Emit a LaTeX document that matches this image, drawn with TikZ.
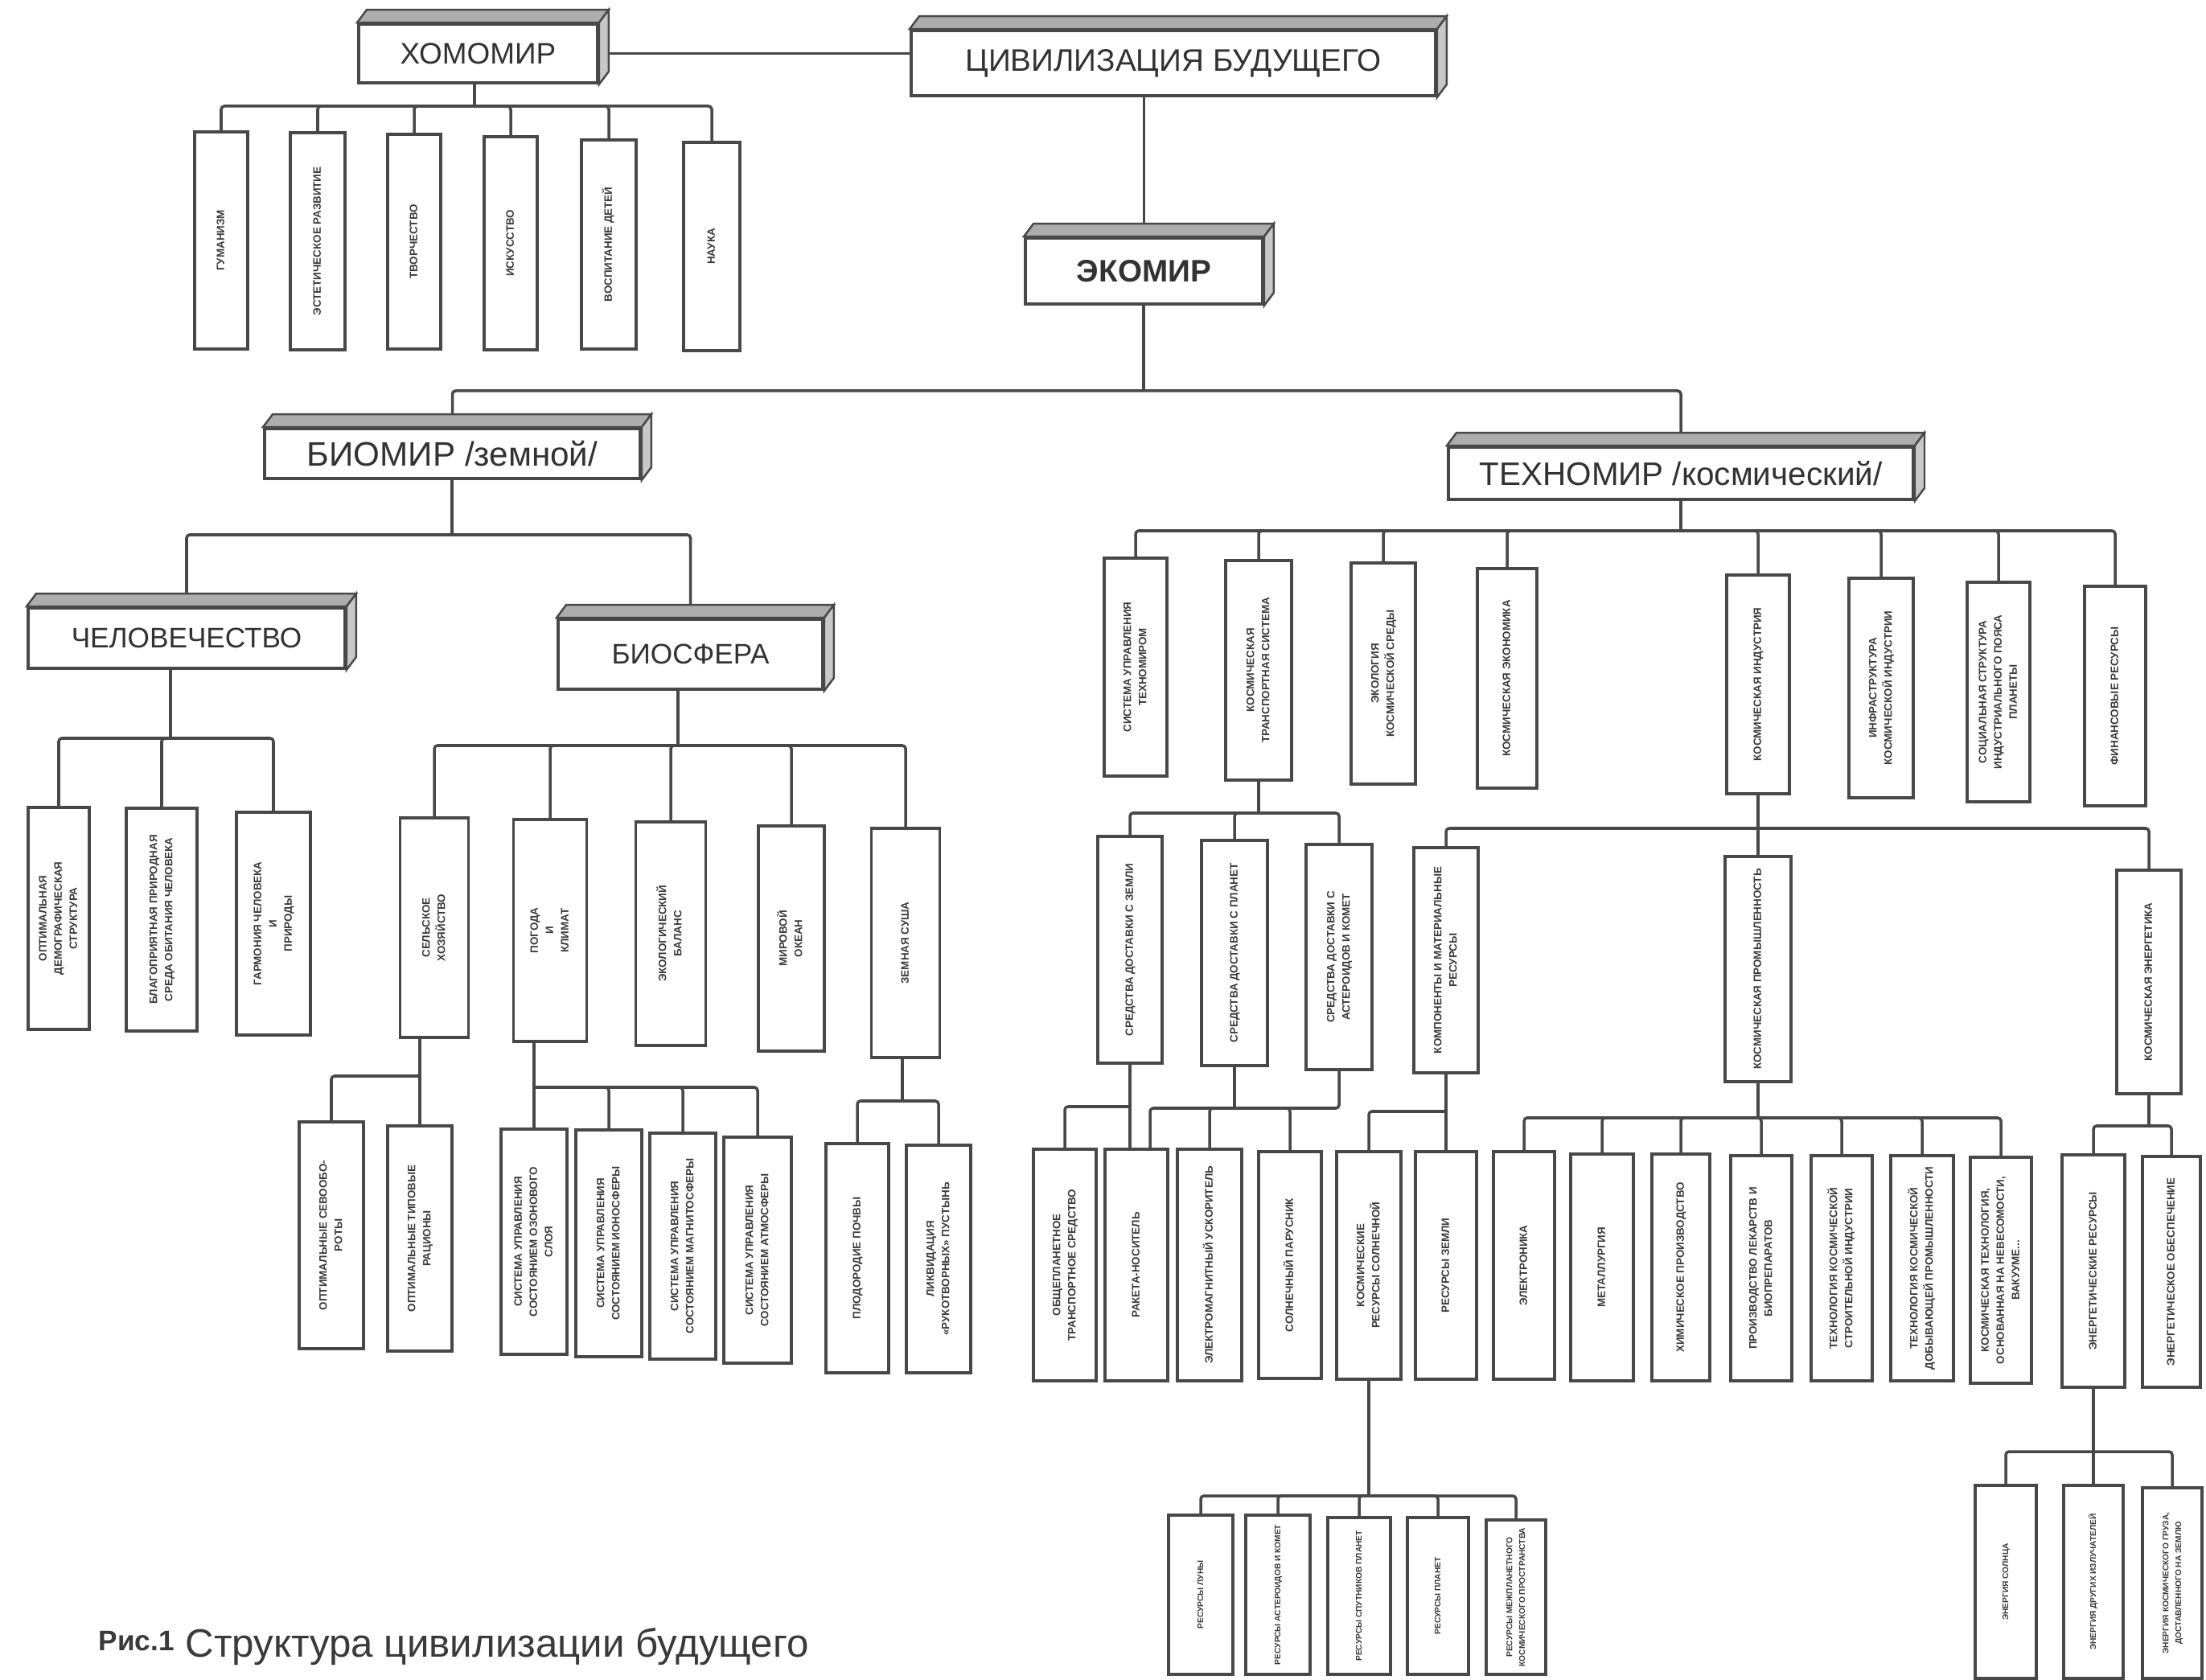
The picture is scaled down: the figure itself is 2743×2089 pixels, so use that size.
\documentclass[tikz,border=0pt]{standalone}
\usepackage{fontspec}
\usepackage{graphicx}
\setmainfont{Liberation Sans}
\usetikzlibrary{calc}
\definecolor{ink}{RGB}{72,72,72}
\newcommand\myvfs{3.8}
\newcommand\myvbs{5.4}
\newcommand\vfont{\fontsize{\myvfs}{\myvbs}\selectfont\bfseries}
\tikzset{
  ln/.style={draw=ink, line width=1pt, rounded corners=0.04cm},
  vb/.style={draw=ink, line width=1.1pt, fill=white, inner sep=0pt, text=ink!80!black},
  hb/.style={draw=ink, line width=1.1pt, fill=white, inner sep=0pt, text=ink!70!black},
  topface/.style={fill=ink!45, draw=ink, line width=0.7pt},
  sideface/.style={fill=ink!30, draw=ink, line width=0.7pt},
  captxt/.style={text=ink!80!black, inner sep=0pt}
}
% vertical box: name, cx, top, bottom, width, text
\newcommand\vn[6]{%
  \pgfmathsetmacro\vnw{#5*0.01}%
  \pgfmathsetmacro\vnh{(#4-#3)*0.01}%
  \node[vb, minimum width=\vnw cm, minimum height=\vnh cm, anchor=north] (#1) at (#2,#3)
    {\rotatebox{90}{\vfont\begin{tabular}{@{}c@{}}#6\end{tabular}}};}
% heading box: name, x1, y1, x2, y2, font size, text
\newcommand\hn[7]{%
  \pgfmathsetmacro\hnw{(#4-#2)*0.01}%
  \pgfmathsetmacro\hnh{(#5-#3)*0.01}%
  \node[hb, minimum width=\hnw cm, minimum height=\hnh cm, font=\fontsize{#6}{#6}\selectfont] (#1) at ({(#2+#4)/2},{(#3+#5)/2}) {#7};}
% 3D faces
\newcommand\slab[1]{%
  \filldraw[topface] (#1.north west) -- ++(12,-16) -- ($(#1.north east)+(12,-16)$) -- (#1.north east) -- cycle;
  \filldraw[sideface] (#1.north east) -- ++(12,-16) -- ($(#1.south east)+(12,-16)$) -- (#1.south east) -- cycle;}
% tree branch: parent, bar coordinate, children
\newcommand\branch[3]{%
  \draw[ln] (#2 |- #1.south) -- (#2);
  \foreach \kid in {#3} {\draw[ln] (\kid.north) |- (#2);}}
\begin{document}
\begin{tikzpicture}[x=0.01cm, y=-0.01cm]
\useasboundingbox (0,0) rectangle (2743,2089);
\fill[white] (0,0) rectangle (2743,2089);

% ---------- headings ----------
\hn{hom}{446}{30}{743}{103}{10.5}{ХОМОМИР}
\hn{civ}{1133}{38}{1785}{119}{11}{ЦИВИЛИЗАЦИЯ БУДУЩЕГО}
\hn{eko}{1275}{296}{1570}{378}{11}{\bfseries ЭКОМИР}
\hn{bio}{329}{533}{796}{595}{12}{БИОМИР /земной/}
\hn{tech}{1801}{556}{2379}{621}{11.5}{ТЕХНОМИР /космический/}
\hn{chel}{35}{756}{429}{831}{10}{ЧЕЛОВЕЧЕСТВО}
\hn{bsf}{694}{770}{1023}{857}{10}{БИОСФЕРА}

% ---------- ХОМОМИР ----------
\vn{h1}{275}{162}{432}{66}{ГУМАНИЗМ}
\vn{h2}{395}{163}{433}{68}{ЭСТЕТИЧЕСКОЕ РАЗВИТИЕ}
\vn{h3}{515}{165}{432}{66}{ТВОРЧЕСТВО}
\vn{h4}{635}{168}{433}{66}{ИСКУССТВО}
\vn{h5}{757}{172}{432}{68}{ВОСПИТАНИЕ ДЕТЕЙ}
\vn{h6}{885}{175}{434}{70}{НАУКА}

% ---------- ЧЕЛОВЕЧЕСТВО ----------
\vn{c1}{73}{1002}{1278}{76}{ОПТИМАЛЬНАЯ\\ДЕМОГРАФИЧЕСКАЯ\\СТРУКТУРА}
\vn{c2}{201}{1003}{1280}{88}{БЛАГОПРИЯТНАЯ ПРИРОДНАЯ\\СРЕДА ОБИТАНИЯ ЧЕЛОВЕКА}
\vn{c3}{340}{1008}{1285}{92}{ГАРМОНИЯ ЧЕЛОВЕКА\\И\\ПРИРОДЫ}

% ---------- БИОСФЕРА ----------
\vn{bs1}{540}{1015}{1288}{85}{СЕЛЬСКОЕ\\ХОЗЯЙСТВО}
\vn{bs2}{684}{1017}{1293}{91}{ПОГОДА\\И\\КЛИМАТ}
\vn{bs3}{834}{1020}{1298}{87}{ЭКОЛОГИЧЕСКИЙ\\БАЛАНС}
\vn{bs4}{984}{1025}{1305}{82}{МИРОВОЙ\\ОКЕАН}
\vn{bs5}{1126}{1028}{1313}{85}{ЗЕМНАЯ СУША}

\vn{a1}{412}{1393}{1675}{80}{ОПТИМАЛЬНЫЕ СЕВООБО-\\РОТЫ}
\vn{a2}{522}{1398}{1678}{80}{ОПТИМАЛЬНЫЕ ТИПОВЫЕ\\РАЦИОНЫ}
\vn{p1}{664}{1402}{1682}{82}{СИСТЕМА УПРАВЛЕНИЯ\\СОСТОЯНИЕМ ОЗОНОВОГО\\СЛОЯ}
\vn{p2}{757}{1403}{1685}{82}{СИСТЕМА УПРАВЛЕНИЯ\\СОСТОЯНИЕМ ИОНОСФЕРЫ}
\vn{p3}{849}{1407}{1688}{82}{СИСТЕМА УПРАВЛЕНИЯ\\СОСТОЯНИЕМ МАГНИТОСФЕРЫ}
\vn{p4}{942}{1412}{1693}{84}{СИСТЕМА УПРАВЛЕНИЯ\\СОСТОЯНИЕМ АТМОСФЕРЫ}
\vn{z1}{1066}{1420}{1705}{78}{ПЛОДОРОДИЕ ПОЧВЫ}
\vn{z2}{1167}{1422}{1705}{80}{ЛИКВИДАЦИЯ\\«РУКОТВОРНЫХ» ПУСТЫНЬ}

% ---------- ТЕХНОМИР ----------
\vn{k1}{1412}{692}{963}{78}{СИСТЕМА УПРАВЛЕНИЯ\\ТЕХНОМИРОМ}
\vn{k2}{1565}{695}{968}{82}{КОСМИЧЕСКАЯ\\ТРАНСПОРТНАЯ СИСТЕМА}
\vn{k3}{1720}{698}{973}{80}{ЭКОЛОГИЯ\\КОСМИЧЕСКОЙ СРЕДЫ}
\vn{k4}{1874}{705}{978}{74}{КОСМИЧЕСКАЯ ЭКОНОМИКА}
\vn{k5}{2186}{713}{985}{78}{КОСМИЧЕСКАЯ ИНДУСТРИЯ}
\vn{k6}{2339}{717}{990}{80}{ИНФРАСТРУКТУРА\\КОСМИЧЕСКОЙ ИНДУСТРИИ}
\vn{k7}{2485}{722}{995}{78}{СОЦИАЛЬНАЯ СТРУКТУРА\\ИНДУСТРИАЛЬНОГО ПОЯСА\\ПЛАНЕТЫ}
\vn{k8}{2630}{727}{1000}{76}{ФИНАНСОВЫЕ РЕСУРСЫ}

\vn{t1}{1405}{1038}{1320}{80}{СРЕДСТВА ДОСТАВКИ С ЗЕМЛИ}
\vn{t2}{1535}{1043}{1323}{82}{СРЕДСТВА ДОСТАВКИ С ПЛАНЕТ}
\vn{t3}{1665}{1048}{1328}{82}{СРЕДСТВА ДОСТАВКИ С\\АСТЕРОИДОВ И КОМЕТ}
\vn{i1}{1798}{1052}{1332}{80}{КОМПОНЕНТЫ И МАТЕРИАЛЬНЫЕ\\РЕСУРСЫ}
\vn{i2}{2186}{1063}{1343}{82}{КОСМИЧЕСКАЯ ПРОМЫШЛЕННОСТЬ}
\vn{i3}{2672}{1080}{1358}{80}{КОСМИЧЕСКАЯ ЭНЕРГЕТИКА}

\vn{b1}{1324}{1427}{1715}{78}{ОБЩЕПЛАНЕТНОЕ\\ТРАНСПОРТНОЕ СРЕДСТВО}
\vn{b2}{1413}{1427}{1715}{78}{РАКЕТА-НОСИТЕЛЬ}
\vn{b3}{1504}{1427}{1715}{80}{ЭЛЕКТРОМАГНИТНЫЙ УСКОРИТЕЛЬ}
\vn{b4}{1604}{1430}{1712}{78}{СОЛНЕЧНЫЙ ПАРУСНИК}
\vn{b5}{1702}{1430}{1713}{80}{КОСМИЧЕСКИЕ\\РЕСУРСЫ СОЛНЕЧНОЙ}
\vn{b6}{1798}{1430}{1713}{76}{РЕСУРСЫ ЗЕМЛИ}
\vn{b7}{1895}{1430}{1713}{76}{ЭЛЕКТРОНИКА}
\vn{b8}{1992}{1433}{1715}{78}{МЕТАЛЛУРГИЯ}
\vn{b9}{2090}{1433}{1715}{72}{ХИМИЧЕСКОЕ ПРОИЗВОДСТВО}
\vn{b10}{2190}{1435}{1715}{76}{ПРОИЗВОДСТВО ЛЕКАРСТВ И\\БИОПРЕПАРАТОВ}
\vn{b11}{2290}{1435}{1715}{76}{ТЕХНОЛОГИЯ КОСМИЧЕСКОЙ\\СТРОИТЕЛЬНОЙ ИНДУСТРИИ}
\vn{b12}{2390}{1435}{1715}{78}{ТЕХНОЛОГИЯ КОСМИЧЕСКОЙ\\ДОБЫВАЮЩЕЙ ПРОМЫШЛЕННОСТИ}
\vn{b13}{2488}{1437}{1718}{76}{КОСМИЧЕСКАЯ ТЕХНОЛОГИЯ,\\ОСНОВАННАЯ НА НЕВЕСОМОСТИ,\\ВАКУУМЕ...}
\vn{e1}{2603}{1434}{1723}{78}{ЭНЕРГЕТИЧЕСКИЕ РЕСУРСЫ}
\vn{e2}{2700}{1436}{1723}{72}{ЭНЕРГЕТИЧЕСКОЕ ОБЕСПЕЧЕНИЕ}

\renewcommand\myvfs{2.9}
\renewcommand\myvbs{4.5}
\vn{r1}{1493}{1882}{2080}{80}{РЕСУРСЫ ЛУНЫ}
\vn{r2}{1589}{1882}{2080}{80}{РЕСУРСЫ АСТЕРОИДОВ И КОМЕТ}
\vn{r3}{1690}{1885}{2080}{78}{РЕСУРСЫ СПУТНИКОВ ПЛАНЕТ}
\vn{r4}{1788}{1885}{2080}{76}{РЕСУРСЫ ПЛАНЕТ}
\vn{r5}{1885}{1888}{2080}{74}{РЕСУРСЫ МЕЖПЛАНЕТНОГО\\КОСМИЧЕСКОГО ПРОСТРАНСТВА}
\vn{s1}{2494}{1845}{2085}{76}{ЭНЕРГИЯ СОЛНЦА}
\vn{s2}{2603}{1845}{2085}{74}{ЭНЕРГИЯ ДРУГИХ ИЗЛУЧАТЕЛЕЙ}
\vn{s3}{2701}{1848}{2085}{74}{ЭНЕРГИЯ КОСМИЧЕСКОГО ГРУЗА,\\ДОСТАВЛЕННОГО НА ЗЕМЛЮ}

% ---------- connectors ----------
\draw[ln] (hom.east) -- (hom.east -| civ.west);
\draw[ln] (eko.north |- civ.south) -- (eko.north);
\coordinate (hbar) at (590,132);  \branch{hom}{hbar}{h1,h2,h3,h4,h5,h6}
\coordinate (ebar) at (1422,486); \branch{eko}{ebar}{bio,tech}
\coordinate (bbar) at (562,665);  \branch{bio}{bbar}{chel,bsf}
\coordinate (cbar) at (212,918);  \branch{chel}{cbar}{c1,c2,c3}
\coordinate (sbar) at (843,927);  \branch{bsf}{sbar}{bs1,bs2,bs3,bs4,bs5}
\coordinate (abar) at (522,1338); \branch{bs1}{abar}{a1,a2}
\coordinate (pbar) at (664,1352); \branch{bs2}{pbar}{p1,p2,p3,p4}
\coordinate (zbar) at (1122,1369); \branch{bs5}{zbar}{z1,z2}
\coordinate (kbar) at (2090,660); \branch{tech}{kbar}{k1,k2,k3,k4,k5,k6,k7,k8}
\coordinate (tbar) at (1565,1011); \branch{k2}{tbar}{t1,t2,t3}
\coordinate (ibar) at (2186,1030); \branch{k5}{ibar}{i1,i2,i3}
% transport means
\coordinate (tb1) at (1405,1376);
\draw[ln] (t1.south) -- (tb1) -- (tb1 |- b2.north);
\draw[ln] (b1.north) |- (tb1);
\coordinate (tb2) at (1535,1378);
\coordinate (b2r) at ($(b2.north)+(17,0)$);
\draw[ln] (t2.south) -- (tb2);
\draw[ln] (t3.south) |- (tb2);
\draw[ln] (b2r) |- (tb2);
\draw[ln] (b3.north) |- (tb2);
\draw[ln] (b4.north) |- (tb2);
\coordinate (mbar) at (1798,1382); \branch{i1}{mbar}{b5,b6}
\coordinate (qbar) at (2186,1390); \branch{i2}{qbar}{b7,b8,b9,b10,b11,b12,b13}
\coordinate (gbar) at (2672,1400); \branch{i3}{gbar}{e1,e2}
\coordinate (rbar) at (1702,1860); \branch{b5}{rbar}{r1,r2,r3,r4,r5}
\coordinate (xbar) at (2603,1805); \branch{e1}{xbar}{s1,s2,s3}

% ---------- 3D faces ----------
\slab{civ}\slab{hom}\slab{eko}\slab{bio}\slab{tech}\slab{chel}\slab{bsf}

% ---------- caption ----------
\node[captxt, anchor=base west, font=\fontsize{10}{12}\selectfont\bfseries] (cap1) at (122,2052) {Рис.1};
\node[captxt, anchor=base west, font=\fontsize{14}{16}\selectfont] (cap2) at (230,2060) {Структура цивилизации будущего};
\end{tikzpicture}
\end{document}
